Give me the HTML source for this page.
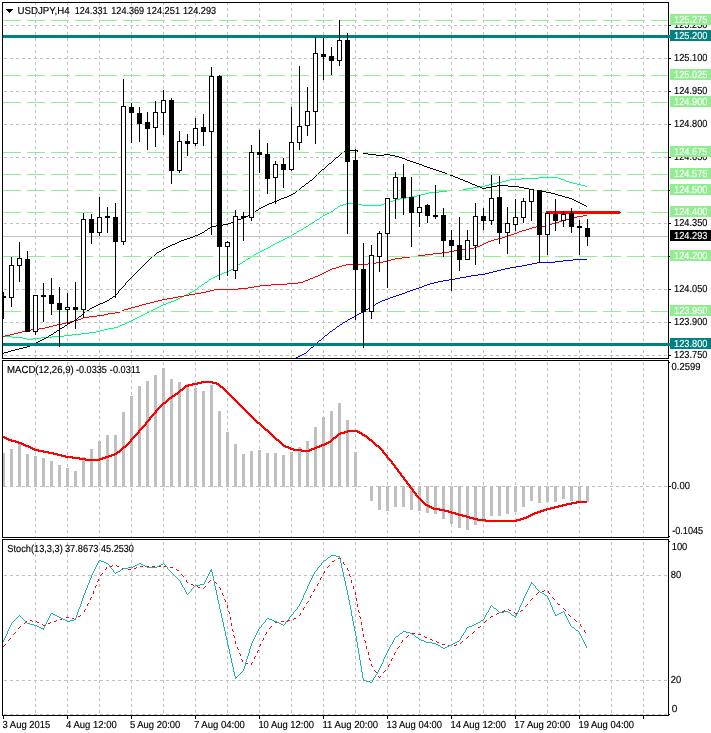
<!DOCTYPE html>
<html><head><meta charset="utf-8"><title>USDJPY H4</title>
<style>html,body{margin:0;padding:0;background:#fff}svg{display:block}text{font-family:"Liberation Sans",sans-serif;font-size:10.2px;text-rendering:geometricPrecision;stroke-width:0.15px}</style>
</head><body>
<svg width="711" height="733" viewBox="0 0 711 733">
<rect width="711" height="733" fill="#fff"/>
<defs><clipPath id="cm"><rect x="3" y="3" width="665" height="355"/></clipPath><clipPath id="c2"><rect x="3" y="361" width="665" height="176"/></clipPath><clipPath id="c3"><rect x="3" y="540" width="665" height="175"/></clipPath></defs>
<g shape-rendering="crispEdges" clip-path="url(#cm)">
<line x1="35.5" y1="2" x2="35.5" y2="358" stroke="#c0c0c0" stroke-dasharray="3,3"/>
<line x1="67.5" y1="2" x2="67.5" y2="358" stroke="#c0c0c0" stroke-dasharray="3,3"/>
<line x1="99.5" y1="2" x2="99.5" y2="358" stroke="#c0c0c0" stroke-dasharray="3,3"/>
<line x1="131.5" y1="2" x2="131.5" y2="358" stroke="#c0c0c0" stroke-dasharray="3,3"/>
<line x1="163.5" y1="2" x2="163.5" y2="358" stroke="#c0c0c0" stroke-dasharray="3,3"/>
<line x1="195.5" y1="2" x2="195.5" y2="358" stroke="#c0c0c0" stroke-dasharray="3,3"/>
<line x1="227.5" y1="2" x2="227.5" y2="358" stroke="#c0c0c0" stroke-dasharray="3,3"/>
<line x1="259.5" y1="2" x2="259.5" y2="358" stroke="#c0c0c0" stroke-dasharray="3,3"/>
<line x1="291.5" y1="2" x2="291.5" y2="358" stroke="#c0c0c0" stroke-dasharray="3,3"/>
<line x1="323.5" y1="2" x2="323.5" y2="358" stroke="#c0c0c0" stroke-dasharray="3,3"/>
<line x1="355.5" y1="2" x2="355.5" y2="358" stroke="#c0c0c0" stroke-dasharray="3,3"/>
<line x1="387.5" y1="2" x2="387.5" y2="358" stroke="#c0c0c0" stroke-dasharray="3,3"/>
<line x1="419.5" y1="2" x2="419.5" y2="358" stroke="#c0c0c0" stroke-dasharray="3,3"/>
<line x1="451.5" y1="2" x2="451.5" y2="358" stroke="#c0c0c0" stroke-dasharray="3,3"/>
<line x1="483.5" y1="2" x2="483.5" y2="358" stroke="#c0c0c0" stroke-dasharray="3,3"/>
<line x1="515.5" y1="2" x2="515.5" y2="358" stroke="#c0c0c0" stroke-dasharray="3,3"/>
<line x1="547.5" y1="2" x2="547.5" y2="358" stroke="#c0c0c0" stroke-dasharray="3,3"/>
<line x1="579.5" y1="2" x2="579.5" y2="358" stroke="#c0c0c0" stroke-dasharray="3,3"/>
<line x1="611.5" y1="2" x2="611.5" y2="358" stroke="#c0c0c0" stroke-dasharray="3,3"/>
<line x1="643.5" y1="2" x2="643.5" y2="358" stroke="#c0c0c0" stroke-dasharray="3,3"/>
<line x1="4" y1="25.5" x2="668" y2="25.5" stroke="#c0c0c0" stroke-dasharray="3,3"/>
<line x1="4" y1="58.5" x2="668" y2="58.5" stroke="#c0c0c0" stroke-dasharray="3,3"/>
<line x1="4" y1="91.5" x2="668" y2="91.5" stroke="#c0c0c0" stroke-dasharray="3,3"/>
<line x1="4" y1="124.5" x2="668" y2="124.5" stroke="#c0c0c0" stroke-dasharray="3,3"/>
<line x1="4" y1="157.5" x2="668" y2="157.5" stroke="#c0c0c0" stroke-dasharray="3,3"/>
<line x1="4" y1="190.5" x2="668" y2="190.5" stroke="#c0c0c0" stroke-dasharray="3,3"/>
<line x1="4" y1="223.5" x2="668" y2="223.5" stroke="#c0c0c0" stroke-dasharray="3,3"/>
<line x1="4" y1="256.5" x2="668" y2="256.5" stroke="#c0c0c0" stroke-dasharray="3,3"/>
<line x1="4" y1="289.5" x2="668" y2="289.5" stroke="#c0c0c0" stroke-dasharray="3,3"/>
<line x1="4" y1="322.5" x2="668" y2="322.5" stroke="#c0c0c0" stroke-dasharray="3,3"/>
<line x1="4" y1="355.5" x2="668" y2="355.5" stroke="#c0c0c0" stroke-dasharray="3,3"/>
<rect x="3" y="236" width="665" height="1" fill="#c0c0c0"/>
<path d="M539 177.5h19M521 178.5h18M558 178.5h3M510 179.5h11M561 179.5h3M506 180.5h4M564 180.5h2M502 181.5h4M566 181.5h3M497 182.5h5M569 182.5h4M493 183.5h4M573 183.5h4M489 184.5h4M577 184.5h4M485 185.5h4M581 185.5h4M479 186.5h6M585 186.5h2M473 187.5h6M467 188.5h6M463 189.5h4M447 190.5h17M439 191.5h8M429 192.5h10M425 193.5h4M421 194.5h4M417 195.5h4M412 196.5h5M406 197.5h6M400 198.5h6M396 199.5h4M393 200.5h3M389 201.5h4M386 202.5h3M346 203.5h12M384 203.5h2M343 204.5h3M358 204.5h4M381 204.5h3M340 205.5h3M362 205.5h19M338 206.5h2M337 207.5h1M335 208.5h2M334 209.5h1M333 210.5h1M331 211.5h2M329 212.5h2M327 213.5h2M325 214.5h2M323 215.5h2M322 216.5h1M320 217.5h2M319 218.5h1M317 219.5h2M315 220.5h2M314 221.5h1M312 222.5h2M311 223.5h1M309 224.5h2M308 225.5h1M306 226.5h2M304 227.5h2M303 228.5h1M301 229.5h2M299 230.5h2M297 231.5h2M296 232.5h1M294 233.5h2M292 234.5h2M291 235.5h1M289 236.5h2M287 237.5h2M285 238.5h2M283 239.5h2M281 240.5h2M279 241.5h2M277 242.5h2M275 243.5h2M273 244.5h2M271 245.5h2M270 246.5h1M268 247.5h2M266 248.5h2M264 249.5h2M262 250.5h2M260 251.5h2M258 252.5h2M256 253.5h2M254 254.5h2M253 255.5h1M251 256.5h2M250 257.5h1M248 258.5h2M246 259.5h2M245 260.5h1M243 261.5h2M242 262.5h1M240 263.5h2M238 264.5h2M237 265.5h1M235 266.5h2M234 267.5h1M233 268.5h1M231 269.5h2M229 270.5h2M227 271.5h2M224 272.5h3M222 273.5h2M219 274.5h3M217 275.5h2M215 276.5h2M213 277.5h2M211 278.5h2M209 279.5h2M208 280.5h1M207 281.5h1M205 282.5h2M204 283.5h1M202 284.5h2M201 285.5h1M199 286.5h2M198 287.5h1M197 288.5h1M195 289.5h2M194 290.5h1M192 291.5h2M190 292.5h2M188 293.5h2M186 294.5h2M184 295.5h2M182 296.5h2M180 297.5h2M178 298.5h2M176 299.5h2M174 300.5h2M171 301.5h3M168 302.5h3M166 303.5h2M163 304.5h3M161 305.5h2M159 306.5h2M157 307.5h2M155 308.5h2M153 309.5h2M151 310.5h2M149 311.5h2M147 312.5h2M145 313.5h2M143 314.5h2M141 315.5h2M139 316.5h2M137 317.5h2M135 318.5h2M133 319.5h2M131 320.5h2M129 321.5h2M127 322.5h2M125 323.5h2M122 324.5h3M120 325.5h2M118 326.5h2M114 327.5h4M108 328.5h6M104 329.5h4M100 330.5h4M96 331.5h4M89 332.5h7M81 333.5h8M72 334.5h9M64 335.5h8M3 336.5h9M52 336.5h12M12 337.5h11M41 337.5h11M23 338.5h4M33 338.5h8M27 339.5h6" fill="none" stroke="#00ff7f" stroke-width="1"/>
<path d="M573 259.5h14M563 260.5h10M555 261.5h8M537 262.5h18M532 263.5h5M527 264.5h5M522 265.5h5M516 266.5h6M510 267.5h6M505 268.5h5M501 269.5h4M497 270.5h4M493 271.5h4M489 272.5h4M485 273.5h4M478 274.5h7M471 275.5h7M466 276.5h5M460 277.5h6M455 278.5h5M449 279.5h6M443 280.5h6M438 281.5h5M434 282.5h4M430 283.5h4M427 284.5h3M424 285.5h3M422 286.5h2M419 287.5h3M416 288.5h3M413 289.5h3M410 290.5h3M407 291.5h3M405 292.5h2M402 293.5h3M399 294.5h3M396 295.5h3M393 296.5h3M390 297.5h3M388 298.5h2M385 299.5h3M382 300.5h3M380 301.5h2M378 302.5h2M376 303.5h2M375 304.5h1M373 305.5h2M371 306.5h2M369 307.5h2M368 308.5h1M366 309.5h2M364 310.5h2M363 311.5h1M361 312.5h2M359 313.5h2M357 314.5h2M356 315.5h1M354 316.5h2M352 317.5h2M350 318.5h2M348 319.5h2M347 320.5h1M345 321.5h2M343 322.5h2M342 323.5h1M340 324.5h2M339 325.5h1M337 326.5h2M336 327.5h1M335 328.5h1M333 329.5h2M332 330.5h1M330 331.5h2M329 332.5h1M328 333.5h1M327 334.5h1M325 335.5h2M324 336.5h1M323 337.5h1M322 338.5h1M321 339.5h1M319 340.5h2M318 341.5h1M317 342.5h1M316 343.5h1M315 344.5h1M314 345.5h1M313 346.5h1M311 347.5h2M310 348.5h1M309 349.5h1M308 350.5h1M307 351.5h1M306 352.5h1M304 353.5h2M302 354.5h2M300 355.5h2M298 356.5h2M296 357.5h2" fill="none" stroke="#0000ff" stroke-width="1"/>
<path d="M583 215.5h4M577 216.5h6M573 217.5h4M569 218.5h4M566 219.5h3M562 220.5h4M559 221.5h3M556 222.5h3M552 223.5h4M549 224.5h3M545 225.5h4M536 226.5h9M532 227.5h4M529 228.5h3M526 229.5h3M522 230.5h4M519 231.5h3M517 232.5h2M514 233.5h3M511 234.5h3M508 235.5h3M505 236.5h3M502 237.5h3M498 238.5h4M494 239.5h4M491 240.5h3M488 241.5h3M486 242.5h2M484 243.5h2M482 244.5h2M480 245.5h2M477 246.5h3M474 247.5h3M468 248.5h6M460 249.5h8M454 250.5h6M449 251.5h5M442 252.5h7M433 253.5h9M425 254.5h8M418 255.5h7M410 256.5h8M402 257.5h8M395 258.5h7M391 259.5h4M387 260.5h4M383 261.5h4M376 262.5h7M368 263.5h8M346 264.5h22M342 265.5h4M339 266.5h3M336 267.5h3M332 268.5h4M330 269.5h2M328 270.5h2M326 271.5h2M324 272.5h2M322 273.5h2M320 274.5h2M318 275.5h2M315 276.5h3M313 277.5h2M310 278.5h3M308 279.5h2M305 280.5h3M303 281.5h2M298 282.5h5M287 283.5h11M271 284.5h16M260 285.5h11M254 286.5h6M248 287.5h6M238 288.5h10M214 289.5h24M210 290.5h4M206 291.5h4M201 292.5h5M195 293.5h6M189 294.5h6M184 295.5h5M178 296.5h6M173 297.5h5M167 298.5h6M162 299.5h5M158 300.5h4M154 301.5h4M150 302.5h4M146 303.5h4M142 304.5h4M139 305.5h3M135 306.5h4M131 307.5h4M128 308.5h3M124 309.5h4M122 310.5h2M120 311.5h2M115 312.5h5M108 313.5h7M104 314.5h4M97 315.5h7M89 316.5h8M83 317.5h6M81 318.5h2M78 319.5h3M74 320.5h4M70 321.5h4M66 322.5h4M62 323.5h4M57 324.5h5M53 325.5h4M49 326.5h4M45 327.5h4M39 328.5h6M31 329.5h8M26 330.5h5M22 331.5h4M18 332.5h4M14 333.5h4M10 334.5h4M5 335.5h5M2 336.5h3" fill="none" stroke="#ff0000" stroke-width="1"/>
<path d="M348 150.5h10M344 151.5h4M357 151.5h1M342 152.5h2M358 152.5h5M341 153.5h1M363 153.5h5M340 154.5h1M368 154.5h8M384 154.5h6M339 155.5h1M376 155.5h8M390 155.5h5M338 156.5h1M395 156.5h4M336 157.5h2M399 157.5h3M335 158.5h1M402 158.5h3M334 159.5h1M405 159.5h2M333 160.5h1M407 160.5h3M332 161.5h1M410 161.5h3M331 162.5h1M413 162.5h3M329 163.5h2M416 163.5h3M328 164.5h1M419 164.5h3M327 165.5h1M422 165.5h2M326 166.5h1M424 166.5h3M325 167.5h1M427 167.5h3M324 168.5h1M430 168.5h3M322 169.5h2M433 169.5h3M321 170.5h1M436 170.5h3M320 171.5h1M439 171.5h3M319 172.5h1M442 172.5h3M318 173.5h1M445 173.5h2M317 174.5h1M447 174.5h3M316 175.5h1M450 175.5h3M315 176.5h1M453 176.5h2M314 177.5h1M455 177.5h3M313 178.5h1M458 178.5h2M312 179.5h1M460 179.5h3M310 180.5h2M463 180.5h2M309 181.5h1M465 181.5h3M308 182.5h1M468 182.5h2M306 183.5h2M470 183.5h2M305 184.5h1M472 184.5h3M304 185.5h1M475 185.5h2M497 185.5h11M302 186.5h2M477 186.5h3M492 186.5h5M508 186.5h11M301 187.5h1M480 187.5h2M486 187.5h6M519 187.5h5M300 188.5h1M482 188.5h4M524 188.5h5M299 189.5h1M529 189.5h5M297 190.5h2M534 190.5h6M296 191.5h1M540 191.5h6M295 192.5h1M546 192.5h5M293 193.5h2M551 193.5h4M291 194.5h2M555 194.5h3M289 195.5h2M558 195.5h4M287 196.5h2M562 196.5h3M284 197.5h3M565 197.5h4M281 198.5h3M569 198.5h3M279 199.5h2M572 199.5h2M277 200.5h2M574 200.5h2M274 201.5h3M576 201.5h2M272 202.5h2M578 202.5h2M269 203.5h3M580 203.5h2M267 204.5h2M582 204.5h2M265 205.5h2M584 205.5h2M263 206.5h2M586 206.5h1M261 207.5h2M259 208.5h2M258 209.5h1M256 210.5h2M255 211.5h1M253 212.5h2M252 213.5h1M250 214.5h2M248 215.5h2M246 216.5h2M244 217.5h2M241 218.5h3M238 219.5h3M236 220.5h2M234 221.5h2M231 222.5h3M228 223.5h3M223 224.5h5M216 225.5h7M212 226.5h4M210 227.5h2M208 228.5h2M207 229.5h1M205 230.5h2M204 231.5h1M202 232.5h2M200 233.5h2M198 234.5h2M195 235.5h3M193 236.5h2M190 237.5h3M187 238.5h3M184 239.5h3M181 240.5h3M179 241.5h2M177 242.5h2M175 243.5h2M172 244.5h3M170 245.5h2M168 246.5h2M166 247.5h2M164 248.5h2M162 249.5h2M161 250.5h1M159 251.5h2M157 252.5h2M156 253.5h1M155 254.5h1M154 255.5h1M152 256.5h2M151 257.5h1M150 258.5h1M149 259.5h1M148 260.5h1M147 261.5h1M146 262.5h1M145 263.5h1M144 264.5h1M143 265.5h1M142 266.5h1M141 267.5h1M140 268.5h1M139 269.5h1M138 270.5h1M137 271.5h1M136 272.5h1M135 273.5h1M134 274.5h1M133 275.5h1M132 276.5h1M131 277.5h1M130 278.5h1M129 279.5h1M128 280.5h1M127 281.5h1M126 282.5h1M125 283.5h1M125 284.5h1M124 285.5h1M123 286.5h1M122 287.5h1M121 288.5h1M120 289.5h1M119 290.5h1M118 291.5h1M118 292.5h1M117 293.5h1M116 294.5h1M115 295.5h1M113 296.5h2M112 297.5h1M110 298.5h2M109 299.5h1M107 300.5h2M105 301.5h2M103 302.5h2M100 303.5h3M98 304.5h2M96 305.5h2M94 306.5h2M92 307.5h2M90 308.5h2M89 309.5h1M87 310.5h2M85 311.5h2M84 312.5h1M83 313.5h1M82 314.5h1M81 315.5h1M79 316.5h2M78 317.5h1M77 318.5h1M76 319.5h1M74 320.5h2M72 321.5h2M70 322.5h2M68 323.5h2M67 324.5h1M65 325.5h2M64 326.5h1M62 327.5h2M60 328.5h2M59 329.5h1M57 330.5h2M56 331.5h1M54 332.5h2M53 333.5h1M51 334.5h2M49 335.5h2M48 336.5h1M46 337.5h2M44 338.5h2M42 339.5h2M40 340.5h2M38 341.5h2M36 342.5h2M34 343.5h2M32 344.5h2M30 345.5h2M27 346.5h3M23 347.5h4M19 348.5h4M15 349.5h4M11 350.5h4M8 351.5h3M4 352.5h4M2 353.5h2" fill="none" stroke="#000" stroke-width="1"/>
<rect x="3" y="20" width="665" height="1" fill="#fff"/>
<line x1="3" y1="20.5" x2="668" y2="20.5" stroke="#90ee90" stroke-dasharray="18,6"/>
<rect x="3" y="75" width="665" height="1" fill="#fff"/>
<line x1="3" y1="75.5" x2="668" y2="75.5" stroke="#90ee90" stroke-dasharray="18,6"/>
<rect x="3" y="102" width="665" height="1" fill="#fff"/>
<line x1="3" y1="102.5" x2="668" y2="102.5" stroke="#90ee90" stroke-dasharray="18,6"/>
<rect x="3" y="152" width="665" height="1" fill="#fff"/>
<line x1="3" y1="152.5" x2="668" y2="152.5" stroke="#90ee90" stroke-dasharray="18,6"/>
<rect x="3" y="174" width="665" height="1" fill="#fff"/>
<line x1="3" y1="174.5" x2="668" y2="174.5" stroke="#90ee90" stroke-dasharray="18,6"/>
<rect x="3" y="190" width="665" height="1" fill="#fff"/>
<line x1="3" y1="190.5" x2="668" y2="190.5" stroke="#90ee90" stroke-dasharray="18,6"/>
<rect x="3" y="212" width="665" height="1" fill="#fff"/>
<line x1="3" y1="212.5" x2="668" y2="212.5" stroke="#90ee90" stroke-dasharray="18,6"/>
<rect x="3" y="256" width="665" height="1" fill="#fff"/>
<line x1="3" y1="256.5" x2="668" y2="256.5" stroke="#90ee90" stroke-dasharray="18,6"/>
<rect x="3" y="311" width="665" height="1" fill="#fff"/>
<line x1="3" y1="311.5" x2="668" y2="311.5" stroke="#90ee90" stroke-dasharray="18,6"/>
<rect x="3" y="35" width="665" height="3" fill="#008080"/>
<rect x="3" y="343" width="665" height="3" fill="#008080"/>
<rect x="546" y="211" width="74" height="3" fill="#ff0000"/><rect x="620" y="212" width="1" height="1" fill="#ff0000"/>
<rect x="3" y="292" width="1" height="27" fill="#000"/>
<rect x="1" y="296" width="5" height="2" fill="#000"/>
<rect x="11" y="257" width="1" height="50" fill="#000"/>
<rect x="9" y="265" width="5" height="33" fill="#000"/>
<rect x="10" y="266" width="3" height="31" fill="#fff"/>
<rect x="19" y="242" width="1" height="40" fill="#000"/>
<rect x="17" y="258" width="5" height="8" fill="#000"/>
<rect x="18" y="259" width="3" height="6" fill="#fff"/>
<rect x="27" y="251" width="1" height="81" fill="#000"/>
<rect x="25" y="259" width="5" height="73" fill="#000"/>
<rect x="35" y="295" width="1" height="40" fill="#000"/>
<rect x="33" y="295" width="5" height="37" fill="#000"/>
<rect x="34" y="296" width="3" height="35" fill="#fff"/>
<rect x="43" y="283" width="1" height="39" fill="#000"/>
<rect x="41" y="295" width="5" height="2" fill="#000"/>
<rect x="51" y="278" width="1" height="37" fill="#000"/>
<rect x="49" y="295" width="5" height="9" fill="#000"/>
<rect x="59" y="287" width="1" height="60" fill="#000"/>
<rect x="57" y="303" width="5" height="7" fill="#000"/>
<rect x="67" y="293" width="1" height="31" fill="#000"/>
<rect x="65" y="307" width="5" height="3" fill="#000"/>
<rect x="66" y="308" width="3" height="1" fill="#fff"/>
<rect x="75" y="282" width="1" height="47" fill="#000"/>
<rect x="73" y="307" width="5" height="3" fill="#000"/>
<rect x="83" y="213" width="1" height="105" fill="#000"/>
<rect x="81" y="219" width="5" height="91" fill="#000"/>
<rect x="82" y="220" width="3" height="89" fill="#fff"/>
<rect x="91" y="214" width="1" height="30" fill="#000"/>
<rect x="89" y="219" width="5" height="14" fill="#000"/>
<rect x="99" y="197" width="1" height="39" fill="#000"/>
<rect x="97" y="217" width="5" height="16" fill="#000"/>
<rect x="98" y="218" width="3" height="14" fill="#fff"/>
<rect x="107" y="207" width="1" height="26" fill="#000"/>
<rect x="105" y="216" width="5" height="2" fill="#000"/>
<rect x="115" y="203" width="1" height="95" fill="#000"/>
<rect x="113" y="217" width="5" height="25" fill="#000"/>
<rect x="123" y="79" width="1" height="166" fill="#000"/>
<rect x="121" y="106" width="5" height="136" fill="#000"/>
<rect x="122" y="107" width="3" height="134" fill="#fff"/>
<rect x="131" y="103" width="1" height="40" fill="#000"/>
<rect x="129" y="107" width="5" height="6" fill="#000"/>
<rect x="139" y="107" width="1" height="35" fill="#000"/>
<rect x="137" y="113" width="5" height="11" fill="#000"/>
<rect x="147" y="112" width="1" height="38" fill="#000"/>
<rect x="145" y="122" width="5" height="7" fill="#000"/>
<rect x="155" y="101" width="1" height="46" fill="#000"/>
<rect x="153" y="112" width="5" height="16" fill="#000"/>
<rect x="154" y="113" width="3" height="14" fill="#fff"/>
<rect x="163" y="90" width="1" height="45" fill="#000"/>
<rect x="161" y="100" width="5" height="13" fill="#000"/>
<rect x="162" y="101" width="3" height="11" fill="#fff"/>
<rect x="171" y="98" width="1" height="86" fill="#000"/>
<rect x="169" y="100" width="5" height="71" fill="#000"/>
<rect x="179" y="131" width="1" height="42" fill="#000"/>
<rect x="177" y="141" width="5" height="30" fill="#000"/>
<rect x="178" y="142" width="3" height="28" fill="#fff"/>
<rect x="187" y="134" width="1" height="22" fill="#000"/>
<rect x="185" y="141" width="5" height="3" fill="#000"/>
<rect x="195" y="118" width="1" height="28" fill="#000"/>
<rect x="193" y="128" width="5" height="16" fill="#000"/>
<rect x="194" y="129" width="3" height="14" fill="#fff"/>
<rect x="203" y="114" width="1" height="32" fill="#000"/>
<rect x="201" y="127" width="5" height="5" fill="#000"/>
<rect x="211" y="67" width="1" height="168" fill="#000"/>
<rect x="209" y="76" width="5" height="56" fill="#000"/>
<rect x="210" y="77" width="3" height="54" fill="#fff"/>
<rect x="219" y="75" width="1" height="205" fill="#000"/>
<rect x="217" y="76" width="5" height="171" fill="#000"/>
<rect x="227" y="241" width="1" height="35" fill="#000"/>
<rect x="225" y="242" width="5" height="5" fill="#000"/>
<rect x="226" y="243" width="3" height="3" fill="#fff"/>
<rect x="235" y="210" width="1" height="69" fill="#000"/>
<rect x="233" y="216" width="5" height="55" fill="#000"/>
<rect x="234" y="217" width="3" height="53" fill="#fff"/>
<rect x="243" y="212" width="1" height="29" fill="#000"/>
<rect x="241" y="216" width="5" height="2" fill="#000"/>
<rect x="251" y="145" width="1" height="76" fill="#000"/>
<rect x="249" y="152" width="5" height="66" fill="#000"/>
<rect x="250" y="153" width="3" height="64" fill="#fff"/>
<rect x="259" y="130" width="1" height="43" fill="#000"/>
<rect x="257" y="152" width="5" height="3" fill="#000"/>
<rect x="267" y="143" width="1" height="51" fill="#000"/>
<rect x="265" y="154" width="5" height="25" fill="#000"/>
<rect x="275" y="161" width="1" height="43" fill="#000"/>
<rect x="273" y="164" width="5" height="14" fill="#000"/>
<rect x="274" y="165" width="3" height="12" fill="#fff"/>
<rect x="283" y="158" width="1" height="30" fill="#000"/>
<rect x="281" y="164" width="5" height="6" fill="#000"/>
<rect x="291" y="107" width="1" height="64" fill="#000"/>
<rect x="289" y="142" width="5" height="28" fill="#000"/>
<rect x="290" y="143" width="3" height="26" fill="#fff"/>
<rect x="299" y="66" width="1" height="84" fill="#000"/>
<rect x="297" y="126" width="5" height="17" fill="#000"/>
<rect x="298" y="127" width="3" height="15" fill="#fff"/>
<rect x="307" y="87" width="1" height="49" fill="#000"/>
<rect x="305" y="111" width="5" height="15" fill="#000"/>
<rect x="306" y="112" width="3" height="13" fill="#fff"/>
<rect x="315" y="37" width="1" height="107" fill="#000"/>
<rect x="313" y="53" width="5" height="59" fill="#000"/>
<rect x="314" y="54" width="3" height="57" fill="#fff"/>
<rect x="323" y="38" width="1" height="42" fill="#000"/>
<rect x="321" y="54" width="5" height="3" fill="#000"/>
<rect x="331" y="47" width="1" height="28" fill="#000"/>
<rect x="329" y="56" width="5" height="5" fill="#000"/>
<rect x="339" y="20" width="1" height="46" fill="#000"/>
<rect x="337" y="40" width="5" height="21" fill="#000"/>
<rect x="338" y="41" width="3" height="19" fill="#fff"/>
<rect x="347" y="33" width="1" height="201" fill="#000"/>
<rect x="345" y="40" width="5" height="122" fill="#000"/>
<rect x="355" y="149" width="1" height="171" fill="#000"/>
<rect x="353" y="160" width="5" height="110" fill="#000"/>
<rect x="363" y="243" width="1" height="105" fill="#000"/>
<rect x="361" y="269" width="5" height="43" fill="#000"/>
<rect x="371" y="245" width="1" height="74" fill="#000"/>
<rect x="369" y="255" width="5" height="57" fill="#000"/>
<rect x="370" y="256" width="3" height="55" fill="#fff"/>
<rect x="379" y="231" width="1" height="41" fill="#000"/>
<rect x="377" y="233" width="5" height="24" fill="#000"/>
<rect x="378" y="234" width="3" height="22" fill="#fff"/>
<rect x="387" y="198" width="1" height="90" fill="#000"/>
<rect x="385" y="198" width="5" height="36" fill="#000"/>
<rect x="386" y="199" width="3" height="34" fill="#fff"/>
<rect x="395" y="172" width="1" height="47" fill="#000"/>
<rect x="393" y="177" width="5" height="22" fill="#000"/>
<rect x="394" y="178" width="3" height="20" fill="#fff"/>
<rect x="403" y="164" width="1" height="51" fill="#000"/>
<rect x="401" y="177" width="5" height="21" fill="#000"/>
<rect x="411" y="177" width="1" height="70" fill="#000"/>
<rect x="409" y="197" width="5" height="16" fill="#000"/>
<rect x="419" y="195" width="1" height="32" fill="#000"/>
<rect x="417" y="207" width="5" height="6" fill="#000"/>
<rect x="418" y="208" width="3" height="4" fill="#fff"/>
<rect x="427" y="204" width="1" height="19" fill="#000"/>
<rect x="425" y="205" width="5" height="11" fill="#000"/>
<rect x="435" y="185" width="1" height="34" fill="#000"/>
<rect x="433" y="215" width="5" height="2" fill="#000"/>
<rect x="443" y="208" width="1" height="49" fill="#000"/>
<rect x="441" y="215" width="5" height="26" fill="#000"/>
<rect x="451" y="230" width="1" height="61" fill="#000"/>
<rect x="449" y="240" width="5" height="6" fill="#000"/>
<rect x="459" y="217" width="1" height="54" fill="#000"/>
<rect x="457" y="245" width="5" height="15" fill="#000"/>
<rect x="467" y="230" width="1" height="30" fill="#000"/>
<rect x="465" y="240" width="5" height="20" fill="#000"/>
<rect x="466" y="241" width="3" height="18" fill="#fff"/>
<rect x="475" y="203" width="1" height="62" fill="#000"/>
<rect x="473" y="216" width="5" height="30" fill="#000"/>
<rect x="474" y="217" width="3" height="28" fill="#fff"/>
<rect x="483" y="208" width="1" height="22" fill="#000"/>
<rect x="481" y="216" width="5" height="5" fill="#000"/>
<rect x="491" y="175" width="1" height="50" fill="#000"/>
<rect x="489" y="198" width="5" height="23" fill="#000"/>
<rect x="490" y="199" width="3" height="21" fill="#fff"/>
<rect x="499" y="176" width="1" height="68" fill="#000"/>
<rect x="497" y="197" width="5" height="36" fill="#000"/>
<rect x="507" y="207" width="1" height="47" fill="#000"/>
<rect x="505" y="223" width="5" height="10" fill="#000"/>
<rect x="506" y="224" width="3" height="8" fill="#fff"/>
<rect x="515" y="199" width="1" height="32" fill="#000"/>
<rect x="513" y="217" width="5" height="8" fill="#000"/>
<rect x="514" y="218" width="3" height="6" fill="#fff"/>
<rect x="523" y="198" width="1" height="25" fill="#000"/>
<rect x="521" y="201" width="5" height="17" fill="#000"/>
<rect x="522" y="202" width="3" height="15" fill="#fff"/>
<rect x="531" y="189" width="1" height="32" fill="#000"/>
<rect x="529" y="189" width="5" height="13" fill="#000"/>
<rect x="530" y="190" width="3" height="11" fill="#fff"/>
<rect x="539" y="190" width="1" height="73" fill="#000"/>
<rect x="537" y="190" width="5" height="45" fill="#000"/>
<rect x="547" y="212" width="1" height="43" fill="#000"/>
<rect x="545" y="213" width="5" height="22" fill="#000"/>
<rect x="546" y="214" width="3" height="20" fill="#fff"/>
<rect x="555" y="199" width="1" height="32" fill="#000"/>
<rect x="553" y="214" width="5" height="7" fill="#000"/>
<rect x="563" y="211" width="1" height="16" fill="#000"/>
<rect x="561" y="214" width="5" height="7" fill="#000"/>
<rect x="562" y="215" width="3" height="5" fill="#fff"/>
<rect x="571" y="208" width="1" height="25" fill="#000"/>
<rect x="569" y="213" width="5" height="14" fill="#000"/>
<rect x="579" y="220" width="1" height="35" fill="#000"/>
<rect x="577" y="226" width="5" height="2" fill="#000"/>
<rect x="587" y="219" width="1" height="27" fill="#000"/>
<rect x="585" y="228" width="5" height="9" fill="#000"/>
</g>
<g shape-rendering="crispEdges" clip-path="url(#c2)">
<line x1="35.5" y1="356" x2="35.5" y2="537" stroke="#c0c0c0" stroke-dasharray="3,3"/>
<line x1="67.5" y1="356" x2="67.5" y2="537" stroke="#c0c0c0" stroke-dasharray="3,3"/>
<line x1="99.5" y1="356" x2="99.5" y2="537" stroke="#c0c0c0" stroke-dasharray="3,3"/>
<line x1="131.5" y1="356" x2="131.5" y2="537" stroke="#c0c0c0" stroke-dasharray="3,3"/>
<line x1="163.5" y1="356" x2="163.5" y2="537" stroke="#c0c0c0" stroke-dasharray="3,3"/>
<line x1="195.5" y1="356" x2="195.5" y2="537" stroke="#c0c0c0" stroke-dasharray="3,3"/>
<line x1="227.5" y1="356" x2="227.5" y2="537" stroke="#c0c0c0" stroke-dasharray="3,3"/>
<line x1="259.5" y1="356" x2="259.5" y2="537" stroke="#c0c0c0" stroke-dasharray="3,3"/>
<line x1="291.5" y1="356" x2="291.5" y2="537" stroke="#c0c0c0" stroke-dasharray="3,3"/>
<line x1="323.5" y1="356" x2="323.5" y2="537" stroke="#c0c0c0" stroke-dasharray="3,3"/>
<line x1="355.5" y1="356" x2="355.5" y2="537" stroke="#c0c0c0" stroke-dasharray="3,3"/>
<line x1="387.5" y1="356" x2="387.5" y2="537" stroke="#c0c0c0" stroke-dasharray="3,3"/>
<line x1="419.5" y1="356" x2="419.5" y2="537" stroke="#c0c0c0" stroke-dasharray="3,3"/>
<line x1="451.5" y1="356" x2="451.5" y2="537" stroke="#c0c0c0" stroke-dasharray="3,3"/>
<line x1="483.5" y1="356" x2="483.5" y2="537" stroke="#c0c0c0" stroke-dasharray="3,3"/>
<line x1="515.5" y1="356" x2="515.5" y2="537" stroke="#c0c0c0" stroke-dasharray="3,3"/>
<line x1="547.5" y1="356" x2="547.5" y2="537" stroke="#c0c0c0" stroke-dasharray="3,3"/>
<line x1="579.5" y1="356" x2="579.5" y2="537" stroke="#c0c0c0" stroke-dasharray="3,3"/>
<line x1="611.5" y1="356" x2="611.5" y2="537" stroke="#c0c0c0" stroke-dasharray="3,3"/>
<line x1="643.5" y1="356" x2="643.5" y2="537" stroke="#c0c0c0" stroke-dasharray="3,3"/>
<line x1="4" y1="486.5" x2="668" y2="486.5" stroke="#c0c0c0" stroke-dasharray="3,3"/>
<rect x="2" y="453" width="3" height="34" fill="#c0c0c0"/>
<rect x="10" y="449" width="3" height="38" fill="#c0c0c0"/>
<rect x="18" y="444" width="3" height="43" fill="#c0c0c0"/>
<rect x="26" y="454" width="3" height="33" fill="#c0c0c0"/>
<rect x="34" y="456" width="3" height="31" fill="#c0c0c0"/>
<rect x="42" y="458" width="3" height="29" fill="#c0c0c0"/>
<rect x="50" y="461" width="3" height="26" fill="#c0c0c0"/>
<rect x="58" y="465" width="3" height="22" fill="#c0c0c0"/>
<rect x="66" y="468" width="3" height="19" fill="#c0c0c0"/>
<rect x="74" y="471" width="3" height="16" fill="#c0c0c0"/>
<rect x="82" y="457" width="3" height="30" fill="#c0c0c0"/>
<rect x="90" y="449" width="3" height="38" fill="#c0c0c0"/>
<rect x="98" y="441" width="3" height="46" fill="#c0c0c0"/>
<rect x="106" y="435" width="3" height="52" fill="#c0c0c0"/>
<rect x="114" y="435" width="3" height="52" fill="#c0c0c0"/>
<rect x="122" y="412" width="3" height="75" fill="#c0c0c0"/>
<rect x="130" y="396" width="3" height="91" fill="#c0c0c0"/>
<rect x="138" y="386" width="3" height="101" fill="#c0c0c0"/>
<rect x="146" y="381" width="3" height="106" fill="#c0c0c0"/>
<rect x="154" y="375" width="3" height="112" fill="#c0c0c0"/>
<rect x="162" y="368" width="3" height="119" fill="#c0c0c0"/>
<rect x="170" y="379" width="3" height="108" fill="#c0c0c0"/>
<rect x="178" y="382" width="3" height="105" fill="#c0c0c0"/>
<rect x="186" y="384" width="3" height="103" fill="#c0c0c0"/>
<rect x="194" y="388" width="3" height="99" fill="#c0c0c0"/>
<rect x="202" y="391" width="3" height="96" fill="#c0c0c0"/>
<rect x="210" y="385" width="3" height="102" fill="#c0c0c0"/>
<rect x="218" y="411" width="3" height="76" fill="#c0c0c0"/>
<rect x="226" y="432" width="3" height="55" fill="#c0c0c0"/>
<rect x="234" y="444" width="3" height="43" fill="#c0c0c0"/>
<rect x="242" y="454" width="3" height="33" fill="#c0c0c0"/>
<rect x="250" y="451" width="3" height="36" fill="#c0c0c0"/>
<rect x="258" y="450" width="3" height="37" fill="#c0c0c0"/>
<rect x="266" y="453" width="3" height="34" fill="#c0c0c0"/>
<rect x="274" y="453" width="3" height="34" fill="#c0c0c0"/>
<rect x="282" y="455" width="3" height="32" fill="#c0c0c0"/>
<rect x="290" y="452" width="3" height="35" fill="#c0c0c0"/>
<rect x="298" y="447" width="3" height="40" fill="#c0c0c0"/>
<rect x="306" y="441" width="3" height="46" fill="#c0c0c0"/>
<rect x="314" y="427" width="3" height="60" fill="#c0c0c0"/>
<rect x="322" y="417" width="3" height="70" fill="#c0c0c0"/>
<rect x="330" y="411" width="3" height="76" fill="#c0c0c0"/>
<rect x="338" y="403" width="3" height="84" fill="#c0c0c0"/>
<rect x="346" y="420" width="3" height="67" fill="#c0c0c0"/>
<rect x="354" y="452" width="3" height="35" fill="#c0c0c0"/>
<rect x="370" y="486" width="3" height="15" fill="#c0c0c0"/>
<rect x="378" y="486" width="3" height="24" fill="#c0c0c0"/>
<rect x="386" y="486" width="3" height="25" fill="#c0c0c0"/>
<rect x="394" y="486" width="3" height="21" fill="#c0c0c0"/>
<rect x="402" y="486" width="3" height="21" fill="#c0c0c0"/>
<rect x="410" y="486" width="3" height="24" fill="#c0c0c0"/>
<rect x="418" y="486" width="3" height="25" fill="#c0c0c0"/>
<rect x="426" y="486" width="3" height="27" fill="#c0c0c0"/>
<rect x="434" y="486" width="3" height="28" fill="#c0c0c0"/>
<rect x="442" y="486" width="3" height="33" fill="#c0c0c0"/>
<rect x="450" y="486" width="3" height="38" fill="#c0c0c0"/>
<rect x="458" y="486" width="3" height="42" fill="#c0c0c0"/>
<rect x="466" y="486" width="3" height="44" fill="#c0c0c0"/>
<rect x="474" y="486" width="3" height="39" fill="#c0c0c0"/>
<rect x="482" y="486" width="3" height="36" fill="#c0c0c0"/>
<rect x="490" y="486" width="3" height="30" fill="#c0c0c0"/>
<rect x="498" y="486" width="3" height="30" fill="#c0c0c0"/>
<rect x="506" y="486" width="3" height="28" fill="#c0c0c0"/>
<rect x="514" y="486" width="3" height="26" fill="#c0c0c0"/>
<rect x="522" y="486" width="3" height="21" fill="#c0c0c0"/>
<rect x="530" y="486" width="3" height="15" fill="#c0c0c0"/>
<rect x="538" y="486" width="3" height="17" fill="#c0c0c0"/>
<rect x="546" y="486" width="3" height="16" fill="#c0c0c0"/>
<rect x="554" y="486" width="3" height="16" fill="#c0c0c0"/>
<rect x="562" y="486" width="3" height="13" fill="#c0c0c0"/>
<rect x="570" y="486" width="3" height="15" fill="#c0c0c0"/>
<rect x="578" y="486" width="3" height="15" fill="#c0c0c0"/>
<rect x="586" y="486" width="3" height="16" fill="#c0c0c0"/>
<path d="M201 381.5h12M197 382.5h20M192 383.5h10M212 383.5h7M188 384.5h10M216 384.5h4M185 385.5h8M218 385.5h3M184 386.5h5M219 386.5h4M183 387.5h3M220 387.5h4M182 388.5h3M222 388.5h3M180 389.5h4M223 389.5h3M179 390.5h4M224 390.5h3M178 391.5h3M225 391.5h3M177 392.5h3M226 392.5h3M175 393.5h4M227 393.5h3M174 394.5h4M228 394.5h3M172 395.5h4M229 395.5h3M171 396.5h4M230 396.5h3M169 397.5h4M231 397.5h3M168 398.5h4M232 398.5h3M167 399.5h3M233 399.5h3M166 400.5h3M234 400.5h3M165 401.5h3M235 401.5h3M163 402.5h4M236 402.5h3M162 403.5h4M237 403.5h3M161 404.5h3M238 404.5h3M160 405.5h3M239 405.5h3M159 406.5h3M240 406.5h3M158 407.5h3M241 407.5h3M157 408.5h3M242 408.5h3M156 409.5h3M243 409.5h3M155 410.5h3M244 410.5h3M155 411.5h2M245 411.5h3M154 412.5h3M246 412.5h3M153 413.5h3M247 413.5h3M152 414.5h3M248 414.5h3M151 415.5h3M249 415.5h3M150 416.5h3M250 416.5h3M149 417.5h3M251 417.5h3M149 418.5h2M252 418.5h3M148 419.5h3M253 419.5h3M147 420.5h3M254 420.5h3M146 421.5h3M255 421.5h3M145 422.5h3M256 422.5h4M145 423.5h2M257 423.5h4M144 424.5h3M259 424.5h3M143 425.5h3M260 425.5h3M142 426.5h3M261 426.5h3M141 427.5h3M262 427.5h3M140 428.5h3M263 428.5h3M139 429.5h3M264 429.5h4M138 430.5h3M265 430.5h4M347 430.5h11M138 431.5h2M267 431.5h3M344 431.5h16M137 432.5h3M268 432.5h3M340 432.5h8M357 432.5h5M136 433.5h3M269 433.5h3M338 433.5h7M359 433.5h4M135 434.5h3M270 434.5h3M337 434.5h4M361 434.5h4M134 435.5h3M271 435.5h3M336 435.5h3M362 435.5h5M2 436.5h3M133 436.5h3M272 436.5h3M335 436.5h3M364 436.5h4M2 437.5h5M132 437.5h3M273 437.5h3M333 437.5h4M366 437.5h3M4 438.5h5M131 438.5h3M274 438.5h3M332 438.5h4M367 438.5h3M6 439.5h6M130 439.5h3M275 439.5h4M331 439.5h3M368 439.5h4M8 440.5h8M130 440.5h2M276 440.5h4M330 440.5h3M369 440.5h4M11 441.5h8M129 441.5h3M278 441.5h3M328 441.5h4M371 441.5h3M15 442.5h7M128 442.5h3M279 442.5h3M326 442.5h5M372 442.5h3M18 443.5h6M127 443.5h3M280 443.5h3M324 443.5h5M373 443.5h3M21 444.5h5M126 444.5h3M281 444.5h3M321 444.5h6M374 444.5h3M23 445.5h6M125 445.5h3M282 445.5h4M319 445.5h6M375 445.5h4M25 446.5h6M123 446.5h4M283 446.5h6M316 446.5h6M376 446.5h4M28 447.5h5M122 447.5h4M285 447.5h6M314 447.5h6M378 447.5h3M30 448.5h5M121 448.5h3M288 448.5h6M311 448.5h6M379 448.5h3M32 449.5h7M120 449.5h3M290 449.5h12M309 449.5h6M380 449.5h3M34 450.5h10M119 450.5h3M293 450.5h19M381 450.5h3M38 451.5h11M117 451.5h4M301 451.5h9M382 451.5h2M43 452.5h11M116 452.5h4M382 452.5h3M48 453.5h10M114 453.5h4M383 453.5h3M53 454.5h9M111 454.5h6M384 454.5h3M57 455.5h9M108 455.5h7M385 455.5h3M61 456.5h12M105 456.5h7M386 456.5h2M65 457.5h15M102 457.5h7M386 457.5h3M72 458.5h14M99 458.5h7M387 458.5h3M79 459.5h24M388 459.5h3M85 460.5h15M389 460.5h3M390 461.5h3M391 462.5h2M391 463.5h3M392 464.5h3M393 465.5h3M394 466.5h2M394 467.5h3M395 468.5h3M396 469.5h3M397 470.5h2M397 471.5h3M398 472.5h3M399 473.5h3M400 474.5h2M400 475.5h3M401 476.5h3M402 477.5h3M403 478.5h2M403 479.5h3M404 480.5h3M405 481.5h3M406 482.5h2M406 483.5h3M407 484.5h3M408 485.5h3M409 486.5h2M409 487.5h3M410 488.5h3M411 489.5h3M412 490.5h2M412 491.5h3M413 492.5h3M414 493.5h3M415 494.5h2M415 495.5h3M416 496.5h3M417 497.5h3M418 498.5h3M419 499.5h3M420 500.5h3M421 501.5h3M576 501.5h11M422 502.5h3M571 502.5h16M423 503.5h3M566 503.5h11M424 504.5h4M562 504.5h10M425 505.5h5M558 505.5h9M427 506.5h5M554 506.5h9M429 507.5h5M550 507.5h9M431 508.5h9M546 508.5h9M433 509.5h12M543 509.5h8M439 510.5h10M540 510.5h7M444 511.5h8M537 511.5h7M448 512.5h8M534 512.5h7M451 513.5h8M532 513.5h6M455 514.5h8M530 514.5h5M458 515.5h9M528 515.5h5M462 516.5h8M526 516.5h5M466 517.5h8M523 517.5h6M469 518.5h9M520 518.5h7M473 519.5h13M516 519.5h8M477 520.5h44M485 521.5h32" fill="none" stroke="#ff0000" stroke-width="1"/>
</g>
<g shape-rendering="crispEdges" clip-path="url(#c3)">
<line x1="35.5" y1="536" x2="35.5" y2="715" stroke="#c0c0c0" stroke-dasharray="3,3"/>
<line x1="67.5" y1="536" x2="67.5" y2="715" stroke="#c0c0c0" stroke-dasharray="3,3"/>
<line x1="99.5" y1="536" x2="99.5" y2="715" stroke="#c0c0c0" stroke-dasharray="3,3"/>
<line x1="131.5" y1="536" x2="131.5" y2="715" stroke="#c0c0c0" stroke-dasharray="3,3"/>
<line x1="163.5" y1="536" x2="163.5" y2="715" stroke="#c0c0c0" stroke-dasharray="3,3"/>
<line x1="195.5" y1="536" x2="195.5" y2="715" stroke="#c0c0c0" stroke-dasharray="3,3"/>
<line x1="227.5" y1="536" x2="227.5" y2="715" stroke="#c0c0c0" stroke-dasharray="3,3"/>
<line x1="259.5" y1="536" x2="259.5" y2="715" stroke="#c0c0c0" stroke-dasharray="3,3"/>
<line x1="291.5" y1="536" x2="291.5" y2="715" stroke="#c0c0c0" stroke-dasharray="3,3"/>
<line x1="323.5" y1="536" x2="323.5" y2="715" stroke="#c0c0c0" stroke-dasharray="3,3"/>
<line x1="355.5" y1="536" x2="355.5" y2="715" stroke="#c0c0c0" stroke-dasharray="3,3"/>
<line x1="387.5" y1="536" x2="387.5" y2="715" stroke="#c0c0c0" stroke-dasharray="3,3"/>
<line x1="419.5" y1="536" x2="419.5" y2="715" stroke="#c0c0c0" stroke-dasharray="3,3"/>
<line x1="451.5" y1="536" x2="451.5" y2="715" stroke="#c0c0c0" stroke-dasharray="3,3"/>
<line x1="483.5" y1="536" x2="483.5" y2="715" stroke="#c0c0c0" stroke-dasharray="3,3"/>
<line x1="515.5" y1="536" x2="515.5" y2="715" stroke="#c0c0c0" stroke-dasharray="3,3"/>
<line x1="547.5" y1="536" x2="547.5" y2="715" stroke="#c0c0c0" stroke-dasharray="3,3"/>
<line x1="579.5" y1="536" x2="579.5" y2="715" stroke="#c0c0c0" stroke-dasharray="3,3"/>
<line x1="611.5" y1="536" x2="611.5" y2="715" stroke="#c0c0c0" stroke-dasharray="3,3"/>
<line x1="643.5" y1="536" x2="643.5" y2="715" stroke="#c0c0c0" stroke-dasharray="3,3"/>
<line x1="4" y1="575.5" x2="668" y2="575.5" stroke="#c0c0c0" stroke-dasharray="3,3"/>
<line x1="4" y1="680.5" x2="668" y2="680.5" stroke="#c0c0c0" stroke-dasharray="3,3"/>
<line x1="4" y1="714.5" x2="668" y2="714.5" stroke="#c0c0c0" stroke-dasharray="3,3"/>
<path d="M339 557.5h1M338 558.5h1M340 558.5h1M334 560.5h1M332 561.5h2M343 562.5h1M343 563.5h1M344 564.5h1M112 565.5h1M116 565.5h1M329 565.5h1M110 566.5h2M117 566.5h2M140 566.5h3M146 566.5h3M152 566.5h3M158 566.5h3M164 566.5h3M328 566.5h1M106 567.5h1M136 567.5h1M170 567.5h3M327 567.5h1M106 568.5h1M122 568.5h3M134 568.5h2M347 568.5h1M105 569.5h1M128 569.5h3M176 569.5h1M347 569.5h1M177 570.5h2M348 570.5h1M324 571.5h1M324 572.5h1M102 573.5h1M323 573.5h1M101 574.5h1M181 574.5h1M349 574.5h1M100 575.5h1M182 575.5h1M349 575.5h1M183 576.5h1M350 576.5h1M321 577.5h1M320 578.5h1M98 579.5h1M320 579.5h1M98 580.5h1M186 580.5h1M210 580.5h1M351 580.5h1M97 581.5h1M186 581.5h1M209 581.5h1M351 581.5h1M187 582.5h1M208 582.5h1M214 582.5h2M351 582.5h1M216 583.5h1M318 583.5h1M191 584.5h2M317 584.5h1M96 585.5h1M193 585.5h1M317 585.5h1M95 586.5h1M197 586.5h1M205 586.5h1M353 586.5h1M95 587.5h1M198 587.5h2M204 587.5h1M219 587.5h1M353 587.5h1M203 588.5h1M220 588.5h1M353 588.5h1M220 589.5h1M314 589.5h1M314 590.5h1M544 590.5h1M93 591.5h1M313 591.5h1M542 591.5h2M548 591.5h1M93 592.5h1M355 592.5h1M538 592.5h1M548 592.5h1M93 593.5h1M222 593.5h1M355 593.5h1M537 593.5h1M549 593.5h1M222 594.5h1M355 594.5h1M536 594.5h1M223 595.5h1M311 595.5h1M310 596.5h1M91 597.5h1M310 597.5h1M552 597.5h1M90 598.5h1M356 598.5h1M532 598.5h1M553 598.5h1M90 599.5h1M224 599.5h1M356 599.5h1M531 599.5h1M554 599.5h1M225 600.5h1M356 600.5h1M530 600.5h1M225 601.5h1M308 601.5h1M307 602.5h1M88 603.5h1M306 603.5h1M557 603.5h1M87 604.5h1M357 604.5h1M527 604.5h1M558 604.5h2M87 605.5h1M227 605.5h1M357 605.5h1M526 605.5h1M227 606.5h1M357 606.5h1M525 606.5h1M227 607.5h1M304 607.5h1M303 608.5h1M563 608.5h1M85 609.5h1M303 609.5h1M508 609.5h1M564 609.5h1M84 610.5h1M358 610.5h1M504 610.5h1M509 610.5h2M521 610.5h2M565 610.5h1M84 611.5h1M228 611.5h1M358 611.5h1M502 611.5h2M520 611.5h1M229 612.5h1M359 612.5h1M514 612.5h1M229 613.5h1M300 613.5h1M497 613.5h2M515 613.5h2M300 614.5h1M496 614.5h1M568 614.5h1M80 615.5h1M299 615.5h1M569 615.5h1M78 616.5h2M359 616.5h1M491 616.5h2M570 616.5h1M66 617.5h3M230 617.5h1M360 617.5h1M490 617.5h1M62 618.5h1M72 618.5h2M230 618.5h1M294 618.5h2M360 618.5h1M60 619.5h2M74 619.5h1M230 619.5h1M293 619.5h1M574 619.5h1M30 620.5h2M56 620.5h1M288 620.5h2M486 620.5h1M575 620.5h1M26 621.5h1M32 621.5h1M36 621.5h1M54 621.5h2M281 621.5h3M287 621.5h1M485 621.5h1M576 621.5h1M25 622.5h1M37 622.5h2M50 622.5h1M275 622.5h3M361 622.5h1M484 622.5h1M24 623.5h1M48 623.5h2M231 623.5h1M361 623.5h1M42 624.5h1M231 624.5h1M361 624.5h1M580 624.5h1M43 625.5h2M231 625.5h1M580 625.5h1M20 626.5h1M271 626.5h1M480 626.5h1M581 626.5h1M19 627.5h1M270 627.5h1M478 627.5h2M18 628.5h1M269 628.5h1M362 628.5h1M232 629.5h1M362 629.5h1M232 630.5h1M362 630.5h1M584 630.5h1M233 631.5h1M474 631.5h1M584 631.5h1M15 632.5h1M266 632.5h1M473 632.5h1M585 632.5h1M14 633.5h1M266 633.5h1M412 633.5h3M472 633.5h1M13 634.5h1M265 634.5h1M363 634.5h1M418 634.5h3M233 635.5h1M363 635.5h1M408 635.5h1M234 636.5h1M363 636.5h1M407 636.5h1M424 636.5h1M468 636.5h1M234 637.5h1M406 637.5h1M425 637.5h2M467 637.5h1M10 638.5h1M263 638.5h1M466 638.5h1M9 639.5h1M263 639.5h1M430 639.5h2M8 640.5h1M262 640.5h1M364 640.5h1M402 640.5h1M432 640.5h1M235 641.5h1M365 641.5h1M402 641.5h1M436 641.5h1M462 641.5h1M235 642.5h1M365 642.5h1M401 642.5h1M437 642.5h2M461 642.5h1M235 643.5h1M460 643.5h1M5 644.5h1M260 644.5h1M442 644.5h3M456 644.5h1M4 645.5h1M260 645.5h1M448 645.5h3M454 645.5h2M3 646.5h1M259 646.5h1M366 646.5h1M399 646.5h1M237 647.5h1M366 647.5h1M398 647.5h1M237 648.5h1M366 648.5h1M397 648.5h1M238 649.5h1M258 650.5h1M257 651.5h1M257 652.5h1M368 652.5h1M395 652.5h1M239 653.5h1M368 653.5h1M394 653.5h1M240 654.5h1M368 654.5h1M394 654.5h1M240 655.5h1M255 656.5h1M254 657.5h1M254 658.5h1M369 658.5h1M392 658.5h1M241 659.5h1M369 659.5h1M391 659.5h1M242 660.5h1M370 660.5h1M391 660.5h1M242 661.5h1M252 662.5h1M245 663.5h3M251 663.5h1M251 664.5h1M371 664.5h1M389 664.5h1M371 665.5h1M388 665.5h1M372 666.5h1M388 666.5h1M374 670.5h1M385 670.5h1M375 671.5h1M384 671.5h1M376 672.5h1M383 672.5h1M378 676.5h1M380 676.5h1M379 677.5h1" fill="none" stroke="#ff0000" stroke-width="1"/>
<path d="M331 555.5h5M330 556.5h1M336 556.5h4M328 557.5h2M339 557.5h1M327 558.5h1M339 558.5h1M326 559.5h1M340 559.5h1M99 560.5h2M324 560.5h2M340 560.5h1M98 561.5h1M101 561.5h3M323 561.5h1M340 561.5h1M98 562.5h1M104 562.5h2M322 562.5h1M340 562.5h1M97 563.5h1M106 563.5h2M139 563.5h2M163 563.5h1M321 563.5h1M341 563.5h1M97 564.5h1M108 564.5h1M137 564.5h2M141 564.5h2M161 564.5h2M164 564.5h1M321 564.5h1M341 564.5h1M96 565.5h1M109 565.5h1M135 565.5h2M143 565.5h2M159 565.5h2M165 565.5h1M320 565.5h1M341 565.5h1M96 566.5h1M109 566.5h1M133 566.5h2M145 566.5h2M157 566.5h2M166 566.5h1M319 566.5h1M341 566.5h1M95 567.5h1M110 567.5h1M128 567.5h5M147 567.5h10M167 567.5h1M318 567.5h1M341 567.5h1M95 568.5h1M111 568.5h1M123 568.5h5M167 568.5h1M317 568.5h1M342 568.5h1M94 569.5h1M112 569.5h1M121 569.5h2M168 569.5h1M211 569.5h1M317 569.5h1M342 569.5h1M94 570.5h1M113 570.5h1M120 570.5h1M169 570.5h1M210 570.5h2M316 570.5h1M342 570.5h1M93 571.5h1M113 571.5h1M118 571.5h2M170 571.5h1M210 571.5h2M315 571.5h1M342 571.5h1M93 572.5h1M114 572.5h1M116 572.5h2M171 572.5h1M209 572.5h1M212 572.5h1M314 572.5h1M343 572.5h1M92 573.5h1M115 573.5h1M172 573.5h1M209 573.5h1M212 573.5h1M314 573.5h1M343 573.5h1M92 574.5h1M173 574.5h1M208 574.5h1M212 574.5h1M313 574.5h1M343 574.5h1M91 575.5h1M174 575.5h1M208 575.5h1M212 575.5h1M313 575.5h1M343 575.5h1M91 576.5h1M175 576.5h1M207 576.5h1M213 576.5h1M312 576.5h1M343 576.5h1M91 577.5h1M176 577.5h1M207 577.5h1M213 577.5h1M312 577.5h1M344 577.5h1M90 578.5h1M177 578.5h1M206 578.5h1M213 578.5h1M311 578.5h1M344 578.5h1M90 579.5h1M178 579.5h1M206 579.5h1M213 579.5h1M311 579.5h1M344 579.5h1M89 580.5h1M179 580.5h1M205 580.5h1M213 580.5h1M310 580.5h1M344 580.5h1M89 581.5h1M180 581.5h1M205 581.5h1M214 581.5h1M310 581.5h1M345 581.5h1M89 582.5h1M180 582.5h1M204 582.5h1M214 582.5h1M309 582.5h1M345 582.5h1M531 582.5h1M88 583.5h1M181 583.5h1M204 583.5h1M214 583.5h1M309 583.5h1M345 583.5h1M531 583.5h2M88 584.5h1M181 584.5h1M200 584.5h4M214 584.5h1M308 584.5h1M345 584.5h1M530 584.5h1M533 584.5h1M87 585.5h1M182 585.5h1M195 585.5h5M214 585.5h1M308 585.5h1M345 585.5h1M530 585.5h1M534 585.5h1M87 586.5h1M182 586.5h1M194 586.5h1M215 586.5h1M307 586.5h1M346 586.5h1M529 586.5h1M535 586.5h1M87 587.5h1M183 587.5h1M193 587.5h1M215 587.5h1M307 587.5h1M346 587.5h1M529 587.5h1M535 587.5h1M86 588.5h1M184 588.5h1M192 588.5h1M215 588.5h1M307 588.5h1M346 588.5h1M528 588.5h1M536 588.5h1M86 589.5h1M184 589.5h1M191 589.5h1M215 589.5h1M306 589.5h1M346 589.5h1M528 589.5h1M537 589.5h1M85 590.5h1M185 590.5h1M191 590.5h1M216 590.5h1M306 590.5h1M347 590.5h1M527 590.5h1M538 590.5h1M85 591.5h1M185 591.5h1M190 591.5h1M216 591.5h1M305 591.5h1M347 591.5h1M527 591.5h1M539 591.5h1M85 592.5h1M186 592.5h1M189 592.5h1M216 592.5h1M305 592.5h1M347 592.5h1M526 592.5h1M540 592.5h2M84 593.5h1M186 593.5h1M188 593.5h1M216 593.5h1M304 593.5h1M347 593.5h1M526 593.5h1M542 593.5h2M84 594.5h1M187 594.5h1M216 594.5h1M304 594.5h1M347 594.5h1M525 594.5h1M544 594.5h1M83 595.5h1M217 595.5h1M303 595.5h1M348 595.5h1M525 595.5h1M545 595.5h2M83 596.5h1M217 596.5h1M303 596.5h1M348 596.5h1M524 596.5h1M547 596.5h1M83 597.5h1M217 597.5h1M303 597.5h1M348 597.5h1M524 597.5h1M547 597.5h1M82 598.5h1M217 598.5h1M302 598.5h1M348 598.5h1M523 598.5h1M548 598.5h1M82 599.5h1M217 599.5h1M302 599.5h1M348 599.5h1M523 599.5h1M548 599.5h1M82 600.5h1M218 600.5h1M301 600.5h1M349 600.5h1M523 600.5h1M549 600.5h1M81 601.5h1M218 601.5h1M301 601.5h1M349 601.5h1M522 601.5h1M549 601.5h1M81 602.5h1M218 602.5h1M300 602.5h1M349 602.5h1M522 602.5h1M550 602.5h1M81 603.5h1M218 603.5h1M300 603.5h1M349 603.5h1M521 603.5h1M550 603.5h1M80 604.5h1M219 604.5h1M299 604.5h1M349 604.5h1M521 604.5h1M550 604.5h1M80 605.5h1M219 605.5h1M299 605.5h1M350 605.5h1M491 605.5h1M520 605.5h1M551 605.5h1M80 606.5h1M219 606.5h1M298 606.5h1M350 606.5h1M490 606.5h1M492 606.5h1M520 606.5h1M551 606.5h1M79 607.5h1M219 607.5h1M297 607.5h1M350 607.5h1M490 607.5h1M493 607.5h1M519 607.5h1M552 607.5h1M79 608.5h1M219 608.5h1M297 608.5h1M350 608.5h1M489 608.5h1M494 608.5h2M519 608.5h1M552 608.5h1M78 609.5h1M220 609.5h1M296 609.5h1M350 609.5h1M489 609.5h1M496 609.5h1M519 609.5h1M552 609.5h1M78 610.5h1M220 610.5h1M295 610.5h1M351 610.5h1M488 610.5h1M497 610.5h1M518 610.5h1M553 610.5h1M78 611.5h1M220 611.5h1M294 611.5h1M351 611.5h1M488 611.5h1M498 611.5h1M504 611.5h4M518 611.5h1M553 611.5h1M563 611.5h1M77 612.5h1M220 612.5h1M293 612.5h1M351 612.5h1M487 612.5h1M499 612.5h5M508 612.5h2M517 612.5h1M554 612.5h1M561 612.5h2M564 612.5h1M51 613.5h2M77 613.5h1M221 613.5h1M293 613.5h1M351 613.5h1M486 613.5h1M510 613.5h1M517 613.5h1M554 613.5h1M559 613.5h2M564 613.5h1M50 614.5h1M53 614.5h2M77 614.5h1M221 614.5h1M292 614.5h1M351 614.5h1M486 614.5h1M511 614.5h1M516 614.5h1M555 614.5h1M557 614.5h2M565 614.5h1M19 615.5h1M50 615.5h1M55 615.5h2M76 615.5h1M221 615.5h1M291 615.5h1M351 615.5h1M485 615.5h1M512 615.5h2M516 615.5h1M555 615.5h2M565 615.5h1M18 616.5h1M20 616.5h1M49 616.5h1M57 616.5h2M76 616.5h1M221 616.5h1M290 616.5h1M352 616.5h1M485 616.5h1M514 616.5h2M566 616.5h1M17 617.5h1M21 617.5h1M49 617.5h1M59 617.5h2M76 617.5h1M221 617.5h1M289 617.5h1M352 617.5h1M484 617.5h1M515 617.5h1M566 617.5h1M16 618.5h1M22 618.5h1M48 618.5h1M61 618.5h2M75 618.5h1M222 618.5h1M267 618.5h2M289 618.5h1M352 618.5h1M484 618.5h1M567 618.5h1M15 619.5h1M23 619.5h1M48 619.5h1M63 619.5h2M74 619.5h2M222 619.5h1M266 619.5h1M269 619.5h3M288 619.5h1M352 619.5h1M483 619.5h1M567 619.5h1M14 620.5h1M24 620.5h1M47 620.5h1M65 620.5h2M70 620.5h4M222 620.5h1M265 620.5h1M272 620.5h2M287 620.5h1M352 620.5h1M481 620.5h2M568 620.5h1M13 621.5h1M25 621.5h1M47 621.5h1M67 621.5h3M222 621.5h1M265 621.5h1M274 621.5h3M286 621.5h1M353 621.5h1M480 621.5h1M568 621.5h1M12 622.5h1M26 622.5h1M46 622.5h1M223 622.5h1M264 622.5h1M277 622.5h2M285 622.5h1M353 622.5h1M478 622.5h2M569 622.5h1M11 623.5h1M27 623.5h3M46 623.5h1M223 623.5h1M263 623.5h1M279 623.5h2M285 623.5h1M353 623.5h1M476 623.5h2M569 623.5h1M11 624.5h1M30 624.5h4M45 624.5h1M223 624.5h1M262 624.5h1M281 624.5h2M284 624.5h1M353 624.5h1M474 624.5h2M570 624.5h1M10 625.5h1M34 625.5h3M45 625.5h1M223 625.5h1M261 625.5h1M283 625.5h1M353 625.5h1M472 625.5h2M570 625.5h1M10 626.5h1M37 626.5h2M44 626.5h1M223 626.5h1M261 626.5h1M354 626.5h1M469 626.5h3M571 626.5h1M9 627.5h1M39 627.5h2M44 627.5h1M224 627.5h1M260 627.5h1M354 627.5h1M467 627.5h2M572 627.5h2M9 628.5h1M41 628.5h3M224 628.5h1M259 628.5h1M354 628.5h1M466 628.5h1M574 628.5h1M8 629.5h1M43 629.5h1M224 629.5h1M258 629.5h1M354 629.5h1M466 629.5h1M575 629.5h1M8 630.5h1M224 630.5h1M258 630.5h1M354 630.5h1M465 630.5h1M576 630.5h2M7 631.5h1M225 631.5h1M257 631.5h1M355 631.5h1M403 631.5h3M465 631.5h1M578 631.5h1M7 632.5h1M225 632.5h1M257 632.5h1M355 632.5h1M402 632.5h1M406 632.5h4M464 632.5h1M579 632.5h1M7 633.5h1M225 633.5h1M256 633.5h1M355 633.5h1M400 633.5h2M410 633.5h2M463 633.5h1M579 633.5h1M6 634.5h1M225 634.5h1M256 634.5h1M355 634.5h1M399 634.5h1M412 634.5h2M463 634.5h1M580 634.5h1M6 635.5h1M225 635.5h1M255 635.5h1M355 635.5h1M398 635.5h1M414 635.5h1M462 635.5h1M580 635.5h1M5 636.5h1M226 636.5h1M255 636.5h1M356 636.5h1M396 636.5h2M415 636.5h1M461 636.5h1M581 636.5h1M5 637.5h1M226 637.5h1M254 637.5h1M356 637.5h1M395 637.5h1M416 637.5h2M461 637.5h1M581 637.5h1M4 638.5h1M226 638.5h1M254 638.5h1M356 638.5h1M394 638.5h1M418 638.5h1M460 638.5h1M582 638.5h1M4 639.5h1M226 639.5h1M253 639.5h1M356 639.5h1M394 639.5h1M419 639.5h2M460 639.5h1M582 639.5h1M3 640.5h1M227 640.5h1M253 640.5h1M356 640.5h1M393 640.5h1M421 640.5h3M459 640.5h1M583 640.5h1M3 641.5h1M227 641.5h1M252 641.5h1M356 641.5h1M393 641.5h1M424 641.5h2M457 641.5h2M583 641.5h1M227 642.5h1M252 642.5h1M357 642.5h1M392 642.5h1M426 642.5h6M455 642.5h2M584 642.5h1M227 643.5h1M251 643.5h1M357 643.5h1M392 643.5h1M432 643.5h4M453 643.5h2M584 643.5h1M227 644.5h1M251 644.5h1M357 644.5h1M391 644.5h1M436 644.5h2M451 644.5h2M585 644.5h1M228 645.5h1M251 645.5h1M357 645.5h1M390 645.5h1M438 645.5h2M449 645.5h2M585 645.5h1M228 646.5h1M250 646.5h1M357 646.5h1M390 646.5h1M440 646.5h1M447 646.5h2M586 646.5h1M228 647.5h1M250 647.5h1M357 647.5h1M389 647.5h1M441 647.5h2M445 647.5h2M586 647.5h1M228 648.5h1M250 648.5h1M358 648.5h1M389 648.5h1M443 648.5h2M229 649.5h1M249 649.5h1M358 649.5h1M388 649.5h1M229 650.5h1M249 650.5h1M358 650.5h1M388 650.5h1M229 651.5h1M249 651.5h1M358 651.5h1M387 651.5h1M229 652.5h1M249 652.5h1M358 652.5h1M387 652.5h1M229 653.5h1M248 653.5h1M358 653.5h1M386 653.5h1M230 654.5h1M248 654.5h1M359 654.5h1M386 654.5h1M230 655.5h1M248 655.5h1M359 655.5h1M385 655.5h1M230 656.5h1M247 656.5h1M359 656.5h1M385 656.5h1M230 657.5h1M247 657.5h1M359 657.5h1M384 657.5h1M231 658.5h1M247 658.5h1M359 658.5h1M384 658.5h1M231 659.5h1M246 659.5h1M359 659.5h1M383 659.5h1M231 660.5h1M246 660.5h1M360 660.5h1M383 660.5h1M231 661.5h1M246 661.5h1M360 661.5h1M383 661.5h1M231 662.5h1M245 662.5h1M360 662.5h1M382 662.5h1M232 663.5h1M245 663.5h1M360 663.5h1M382 663.5h1M232 664.5h1M245 664.5h1M360 664.5h1M381 664.5h1M232 665.5h1M245 665.5h1M360 665.5h1M381 665.5h1M232 666.5h1M244 666.5h1M361 666.5h1M380 666.5h1M233 667.5h1M244 667.5h1M361 667.5h1M380 667.5h1M233 668.5h1M244 668.5h1M361 668.5h1M379 668.5h1M233 669.5h1M243 669.5h1M361 669.5h1M379 669.5h1M233 670.5h1M243 670.5h1M361 670.5h1M378 670.5h1M233 671.5h1M242 671.5h1M361 671.5h1M378 671.5h1M234 672.5h1M241 672.5h1M362 672.5h1M377 672.5h1M234 673.5h1M240 673.5h1M362 673.5h1M377 673.5h1M234 674.5h1M239 674.5h1M362 674.5h1M376 674.5h1M234 675.5h1M238 675.5h1M362 675.5h1M375 675.5h1M235 676.5h1M237 676.5h1M362 676.5h1M375 676.5h1M235 677.5h2M362 677.5h1M374 677.5h1M235 678.5h1M363 678.5h1M373 678.5h1M363 679.5h1M373 679.5h1M363 680.5h3M372 680.5h1M366 681.5h4M372 681.5h1M370 682.5h2" fill="none" stroke="#20b2aa" stroke-width="1"/>
</g>
<g shape-rendering="crispEdges" fill="#000">
<rect x="2" y="2" width="667" height="1"/>
<rect x="2" y="358" width="667" height="1"/>
<rect x="2" y="2" width="1" height="357"/>
<rect x="668" y="2" width="1" height="357"/>
<rect x="2" y="360" width="667" height="1"/>
<rect x="2" y="537" width="667" height="1"/>
<rect x="2" y="360" width="1" height="178"/>
<rect x="668" y="360" width="1" height="178"/>
<rect x="2" y="539" width="667" height="1"/>
<rect x="2" y="715" width="667" height="1"/>
<rect x="2" y="539" width="1" height="177"/>
<rect x="668" y="539" width="1" height="177"/>
<rect x="669" y="25" width="2" height="1"/>
<rect x="669" y="58" width="2" height="1"/>
<rect x="669" y="91" width="2" height="1"/>
<rect x="669" y="124" width="2" height="1"/>
<rect x="669" y="157" width="2" height="1"/>
<rect x="669" y="190" width="2" height="1"/>
<rect x="669" y="223" width="2" height="1"/>
<rect x="669" y="256" width="2" height="1"/>
<rect x="669" y="289" width="2" height="1"/>
<rect x="669" y="322" width="2" height="1"/>
<rect x="669" y="355" width="2" height="1"/>
<rect x="669" y="362" width="1" height="1"/><rect x="669" y="486" width="2" height="1"/><rect x="669" y="536" width="1" height="1"/>
<rect x="669" y="541" width="1" height="1"/><rect x="669" y="714" width="1" height="1"/>
<rect x="3" y="716" width="1" height="3"/>
<rect x="67" y="716" width="1" height="3"/>
<rect x="131" y="716" width="1" height="3"/>
<rect x="195" y="716" width="1" height="3"/>
<rect x="259" y="716" width="1" height="3"/>
<rect x="323" y="716" width="1" height="3"/>
<rect x="387" y="716" width="1" height="3"/>
<rect x="451" y="716" width="1" height="3"/>
<rect x="515" y="716" width="1" height="3"/>
<rect x="579" y="716" width="1" height="3"/>
<rect x="643" y="716" width="1" height="3"/>
</g>
<g shape-rendering="crispEdges">
<text x="674.09" y="27.7" textLength="33.30" lengthAdjust="spacingAndGlyphs" fill="#000" stroke="#000">125.250</text>
<text x="674.09" y="60.7" textLength="33.30" lengthAdjust="spacingAndGlyphs" fill="#000" stroke="#000">125.100</text>
<text x="674.09" y="93.7" textLength="33.30" lengthAdjust="spacingAndGlyphs" fill="#000" stroke="#000">124.950</text>
<text x="674.09" y="126.7" textLength="33.30" lengthAdjust="spacingAndGlyphs" fill="#000" stroke="#000">124.800</text>
<text x="674.09" y="159.7" textLength="33.30" lengthAdjust="spacingAndGlyphs" fill="#000" stroke="#000">124.650</text>
<text x="674.09" y="192.7" textLength="33.30" lengthAdjust="spacingAndGlyphs" fill="#000" stroke="#000">124.500</text>
<text x="674.09" y="225.7" textLength="33.30" lengthAdjust="spacingAndGlyphs" fill="#000" stroke="#000">124.350</text>
<text x="674.09" y="258.7" textLength="33.30" lengthAdjust="spacingAndGlyphs" fill="#000" stroke="#000">124.200</text>
<text x="674.09" y="291.7" textLength="33.30" lengthAdjust="spacingAndGlyphs" fill="#000" stroke="#000">124.050</text>
<text x="674.09" y="324.7" textLength="33.30" lengthAdjust="spacingAndGlyphs" fill="#000" stroke="#000">123.900</text>
<text x="674.09" y="357.7" textLength="33.30" lengthAdjust="spacingAndGlyphs" fill="#000" stroke="#000">123.750</text>
<rect x="670" y="14" width="41" height="11" fill="#90ee90"/>
<text x="674.09" y="22.7" textLength="33.30" lengthAdjust="spacingAndGlyphs" fill="#fff" stroke="#fff" stroke-width="0.1">125.275</text>
<rect x="670" y="69" width="41" height="11" fill="#90ee90"/>
<text x="674.09" y="77.7" textLength="33.30" lengthAdjust="spacingAndGlyphs" fill="#fff" stroke="#fff" stroke-width="0.1">125.025</text>
<rect x="670" y="96" width="41" height="11" fill="#90ee90"/>
<text x="674.09" y="104.7" textLength="33.30" lengthAdjust="spacingAndGlyphs" fill="#fff" stroke="#fff" stroke-width="0.1">124.900</text>
<rect x="670" y="146" width="41" height="11" fill="#90ee90"/>
<text x="674.09" y="154.7" textLength="33.30" lengthAdjust="spacingAndGlyphs" fill="#fff" stroke="#fff" stroke-width="0.1">124.675</text>
<rect x="670" y="168" width="41" height="11" fill="#90ee90"/>
<text x="674.09" y="176.7" textLength="33.30" lengthAdjust="spacingAndGlyphs" fill="#fff" stroke="#fff" stroke-width="0.1">124.575</text>
<rect x="670" y="184" width="41" height="11" fill="#90ee90"/>
<text x="674.09" y="192.7" textLength="33.30" lengthAdjust="spacingAndGlyphs" fill="#fff" stroke="#fff" stroke-width="0.1">124.500</text>
<rect x="670" y="206" width="41" height="11" fill="#90ee90"/>
<text x="674.09" y="214.7" textLength="33.30" lengthAdjust="spacingAndGlyphs" fill="#fff" stroke="#fff" stroke-width="0.1">124.400</text>
<rect x="670" y="250" width="41" height="11" fill="#90ee90"/>
<text x="674.09" y="258.7" textLength="33.30" lengthAdjust="spacingAndGlyphs" fill="#fff" stroke="#fff" stroke-width="0.1">124.200</text>
<rect x="670" y="305" width="41" height="11" fill="#90ee90"/>
<text x="674.09" y="313.7" textLength="33.30" lengthAdjust="spacingAndGlyphs" fill="#fff" stroke="#fff" stroke-width="0.1">123.950</text>
<rect x="670" y="30" width="41" height="11" fill="#008080"/>
<text x="674.09" y="38.7" textLength="33.30" lengthAdjust="spacingAndGlyphs" fill="#fff" stroke="#fff" stroke-width="0.1">125.200</text>
<rect x="670" y="338" width="41" height="11" fill="#008080"/>
<text x="674.09" y="346.7" textLength="33.30" lengthAdjust="spacingAndGlyphs" fill="#fff" stroke="#fff" stroke-width="0.1">123.800</text>
<rect x="670" y="230" width="41" height="11" fill="#000"/>
<text x="674.09" y="238.7" textLength="33.30" lengthAdjust="spacingAndGlyphs" fill="#fff" stroke="#fff" stroke-width="0.1">124.293</text>
<rect x="668" y="35" width="2" height="3" fill="#008080"/><rect x="668" y="343" width="2" height="3" fill="#008080"/>
<text x="671.62" y="370" textLength="28.83" lengthAdjust="spacingAndGlyphs" fill="#000" stroke="#000">0.2599</text>
<text x="671.62" y="489" textLength="18.40" lengthAdjust="spacingAndGlyphs" fill="#000" stroke="#000">0.00</text>
<text x="672.13" y="534" textLength="31.02" lengthAdjust="spacingAndGlyphs" fill="#000" stroke="#000">-0.1045</text>
<text x="671.68" y="550" textLength="15.66" lengthAdjust="spacingAndGlyphs" fill="#000" stroke="#000">100</text>
<text x="670.72" y="578" textLength="10.47" lengthAdjust="spacingAndGlyphs" fill="#000" stroke="#000">80</text>
<text x="670.72" y="683" textLength="10.47" lengthAdjust="spacingAndGlyphs" fill="#000" stroke="#000">20</text>
<text x="671.69" y="712" textLength="5.57" lengthAdjust="spacingAndGlyphs" fill="#000" stroke="#000">0</text>
<path d="M6 9h7v1h-1v1h-1v1h-1v1h-1v-1h-1v-1h-1v-1h-1z" fill="#000"/>
<text x="17.46" y="14" textLength="52.13" lengthAdjust="spacingAndGlyphs" fill="#000" stroke="#000">USDJPY,H4</text>
<text x="74.70" y="14" textLength="32.89" lengthAdjust="spacingAndGlyphs" fill="#000" stroke="#000">124.331</text>
<text x="111.30" y="14" textLength="32.89" lengthAdjust="spacingAndGlyphs" fill="#000" stroke="#000">124.369</text>
<text x="146.59" y="14" textLength="33.51" lengthAdjust="spacingAndGlyphs" fill="#000" stroke="#000">124.251</text>
<text x="183.00" y="14" textLength="33.20" lengthAdjust="spacingAndGlyphs" fill="#000" stroke="#000">124.293</text>
<text x="7.07" y="373" textLength="66.69" lengthAdjust="spacingAndGlyphs" fill="#000" stroke="#000">MACD(12,26,9)</text>
<text x="75.93" y="373" textLength="31.02" lengthAdjust="spacingAndGlyphs" fill="#000" stroke="#000">-0.0335</text>
<text x="109.83" y="373" textLength="30.54" lengthAdjust="spacingAndGlyphs" fill="#000" stroke="#000">-0.0311</text>
<text x="7.33" y="552" textLength="55.42" lengthAdjust="spacingAndGlyphs" fill="#000" stroke="#000">Stoch(13,3,3)</text>
<text x="64.93" y="552" textLength="33.57" lengthAdjust="spacingAndGlyphs" fill="#000" stroke="#000">37.8673</text>
<text x="101.07" y="552" textLength="32.82" lengthAdjust="spacingAndGlyphs" fill="#000" stroke="#000">45.2530</text>
<text x="2.52" y="728" textLength="47.70" lengthAdjust="spacingAndGlyphs" fill="#000" stroke="#000">3 Aug 2015</text>
<text x="66.06" y="728" textLength="50.75" lengthAdjust="spacingAndGlyphs" fill="#000" stroke="#000">4 Aug 12:00</text>
<text x="129.92" y="728" textLength="50.38" lengthAdjust="spacingAndGlyphs" fill="#000" stroke="#000">5 Aug 20:00</text>
<text x="193.91" y="728" textLength="50.99" lengthAdjust="spacingAndGlyphs" fill="#000" stroke="#000">7 Aug 04:00</text>
<text x="258.38" y="728" textLength="55.50" lengthAdjust="spacingAndGlyphs" fill="#000" stroke="#000">10 Aug 12:00</text>
<text x="322.47" y="728" textLength="55.65" lengthAdjust="spacingAndGlyphs" fill="#000" stroke="#000">11 Aug 20:00</text>
<text x="386.48" y="728" textLength="55.60" lengthAdjust="spacingAndGlyphs" fill="#000" stroke="#000">13 Aug 04:00</text>
<text x="450.48" y="728" textLength="55.60" lengthAdjust="spacingAndGlyphs" fill="#000" stroke="#000">14 Aug 12:00</text>
<text x="514.27" y="728" textLength="56.01" lengthAdjust="spacingAndGlyphs" fill="#000" stroke="#000">17 Aug 20:00</text>
<text x="578.38" y="728" textLength="55.71" lengthAdjust="spacingAndGlyphs" fill="#000" stroke="#000">19 Aug 04:00</text>
</g>
</svg></body></html>
